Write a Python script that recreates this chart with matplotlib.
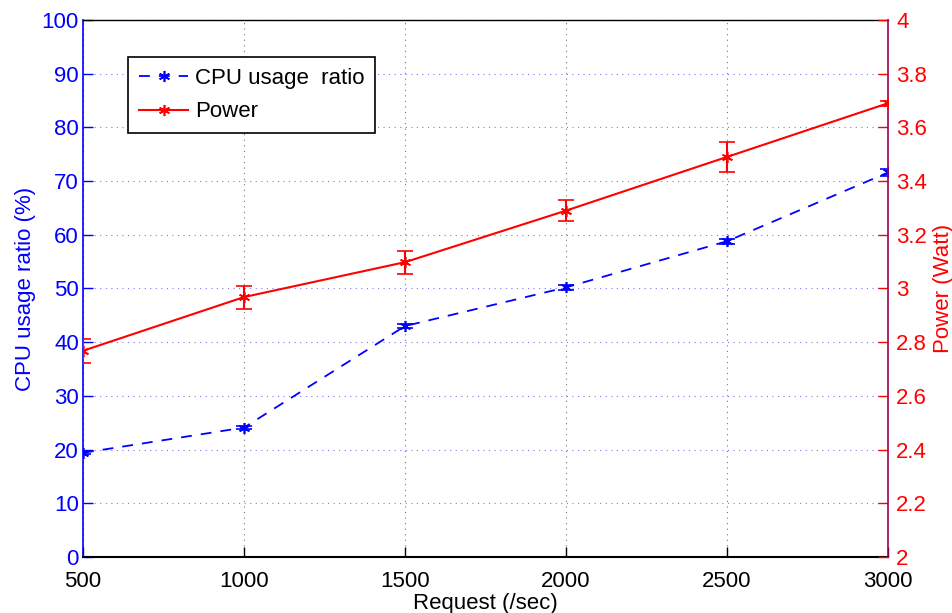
import matplotlib
matplotlib.use("Agg")
import matplotlib.pyplot as plt
from matplotlib.ticker import FormatStrFormatter

requests = [500, 1000, 1500, 2000, 2500, 3000]
cpu_ratio = [19.4, 24.1, 43.0, 50.2, 58.8, 71.6]
cpu_err = [0.3, 0.3, 0.4, 0.4, 0.5, 0.6]
power = [2.768, 2.968, 3.098, 3.290, 3.490, 3.690]
power_err = [0.045, 0.043, 0.043, 0.040, 0.057, 0.01]

plt.rcParams["font.family"] = ["Liberation Sans", "DejaVu Sans"]
plt.rcParams["font.size"] = 14

blue = "#0000ff"
red = "#ff0000"
star = (6, 2, 0)

fig = plt.figure(figsize=(9.52, 6.13), dpi=100)
ax = fig.add_axes([0.0872, 0.0914, 0.8456, 0.876])
ax2 = ax.twinx()

# CPU on left axis
e1 = ax.errorbar(requests, cpu_ratio, yerr=cpu_err, color=blue, ls="--", dashes=(6, 5),
                 lw=1.3, marker=star, ms=8, mew=1.2, capsize=6, elinewidth=1.2, zorder=3)
# Power on right axis
e2 = ax2.errorbar(requests, power, yerr=power_err, color=red, ls="-", lw=1.5,
                  marker=star, ms=8, mew=1.2, capsize=6, elinewidth=1.5, zorder=3)

ax.set_xlim(500, 3000)
ax.set_ylim(0, 100)
ax.set_yticks(range(0, 101, 10))
ax.set_xticks(requests)
ax2.set_ylim(2, 4)
ax2.set_yticks([2 + 0.2 * i for i in range(11)])
ax2.yaxis.set_major_formatter(FormatStrFormatter("%g"))

ax.xaxis.grid(True, color="#777777", ls=(0, (1, 4)), lw=0.8)
ax.yaxis.grid(True, color="#7777ff", ls=(0, (1, 4)), lw=0.8)
ax.set_axisbelow(True)

for a in (ax, ax2):
    a.tick_params(direction="in", length=7, width=1.0)
ax.spines["top"].set_color("black")
ax.spines["top"].set_linewidth(1.0)
ax2.spines["top"].set_visible(False)
ax.spines["left"].set_color(blue)
ax.spines["left"].set_linewidth(1.2)
ax.spines["right"].set_visible(False)
ax2.spines["left"].set_visible(False)
ax2.spines["bottom"].set_visible(False)
ax2.spines["right"].set_color("#a0005a")
ax2.spines["right"].set_linewidth(1.2)
ax.spines["bottom"].set_linewidth(1.5)

ax.tick_params(axis="y", colors=blue, labelsize=16, pad=3)
ax.tick_params(axis="x", colors="black", labelsize=16, pad=10)
ax2.tick_params(axis="y", colors=red, labelsize=16, pad=6)

ax.set_xlabel("Request (/sec)", fontsize=16, labelpad=1)
ax.set_ylabel("CPU usage ratio (%)", color=blue, fontsize=16, labelpad=4)
ax2.set_ylabel("Power (Watt)", color=red, fontsize=16, labelpad=4)

leg = ax2.legend([e1.lines[0], e2.lines[0]], ["CPU usage  ratio", "Power"],
                 loc="upper left", bbox_to_anchor=(0.056, 0.931), borderaxespad=0,
                 fontsize=16, fancybox=False, framealpha=1, edgecolor="black",
                 borderpad=0.5, handlelength=2.2, handletextpad=0.3, labelspacing=0.55)
leg.get_frame().set_linewidth(1.2)

fig.savefig("out.png", dpi=100)
